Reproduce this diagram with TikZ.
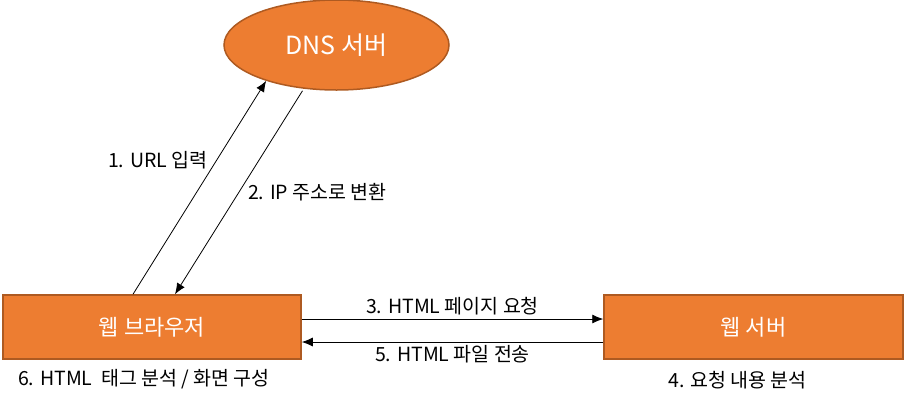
\documentclass[tikz,border=0pt]{standalone}
\usepackage{fontspec}
\setmainfont{Noto Sans CJK KR}
\usetikzlibrary{arrows.meta,shapes.geometric,positioning,calc}
\definecolor{boxfill}{HTML}{ED7D31}
\definecolor{boxline}{HTML}{AE5A21}

\begin{document}
\begin{tikzpicture}
[x=1pt, y=1pt,
box/.style={draw=boxline,line width=1.5pt,fill=boxfill,text=white,
  minimum width=298pt,minimum height=64pt,font=\fontsize{22}{26}\selectfont},
lbl/.style={font=\fontsize{19.5}{22}\selectfont,text=black,inner sep=1pt},
link/.style={draw,line width=0.8pt,-{Latex[length=11pt,width=9pt]}}]
\useasboundingbox (0,0) rectangle (904,-408);
\node[box] (web) at (152,-327) {웹 브라우저};
\node[box,minimum width=299pt] (srv) at (753.5,-327) {웹 서버};
\node[box,ellipse,minimum width=225pt,minimum height=90pt,font=\fontsize{25}{28}\selectfont] (dns) at (336.5,-45) {DNS 서버};
\draw[link] ([xshift=-19pt]web.north) -- node[lbl,pos=0.63,left=8pt] {1. URL 입력} (dns.207);
\draw[link] ([xshift=-34pt]dns.south) -- node[lbl,pos=0.5,right=8pt] {2. IP 주소로 변환} ([xshift=23pt]web.north);
\draw[link] ([yshift=8pt]web.east) -- node[lbl,above=3pt] {3. HTML 페이지 요청} ([yshift=8pt]srv.west);
\draw[link] ([yshift=-15pt]srv.west) -- node[lbl,below=2pt] {5. HTML 파일 전송} ([yshift=-15pt]web.east);
\node[lbl,below=8pt of web,xshift=-8pt] (note6) {6. HTML\ \ 태그 분석 / 화면 구성};
\node[lbl,below=10pt of srv,xshift=-16pt] (note4) {4. 요청 내용 분석};
\end{tikzpicture}
\end{document}
